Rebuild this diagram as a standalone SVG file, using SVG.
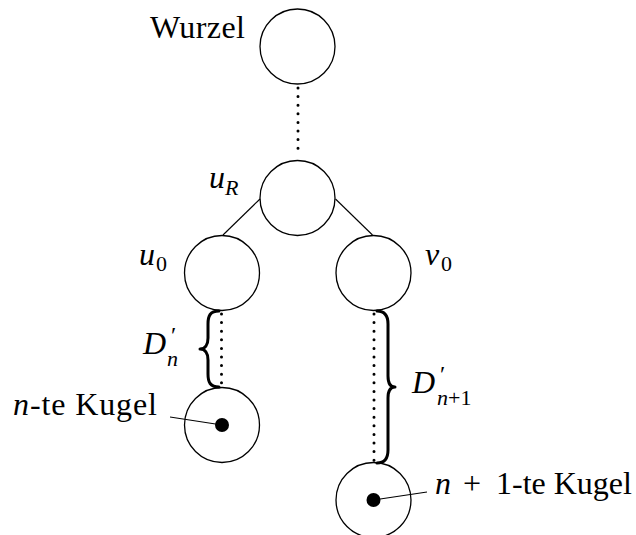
<svg xmlns="http://www.w3.org/2000/svg" width="636" height="535" viewBox="0 0 636 535">
<style>
.node{fill:none;stroke:#000;stroke-width:1.3}
.edge{fill:none;stroke:#000;stroke-width:1.1}
.dots{fill:none;stroke:#000;stroke-width:3;stroke-linecap:round;stroke-dasharray:0 8.6}
.brace{fill:none;stroke:#000;stroke-width:3;stroke-linecap:round;stroke-linejoin:round}
text{font-family:"Liberation Serif","DejaVu Serif",serif;font-size:32px;fill:#000}
.it{font-style:italic}
.sub{font-size:22px}
.pr{font-size:24px;font-style:normal}
</style>
<rect width="636" height="535" fill="#fff"/>
<g id="connectors">
<path class="dots" d="M298 88 V156"/>
<path class="edge" d="M260 199 L223 235"/>
<path class="edge" d="M335.5 199 L372.5 235"/>
<path class="dots" d="M221.5 314 V386"/>
<path class="dots" d="M374 314 V462"/>
<path class="brace" d="M219 311 C210 311 208 316 208 324 L208 338 C208 345 205 349 200 349 C205 349 208 353 208 360 L208 374 C208 382 210 387 219 387"/>
<path class="brace" d="M377 311 C385 311 388 316 388 324 L388 376 C388 383 390 387 395 387 C390 387 388 391 388 398 L388 450 C388 458 385 463 377 463"/>
<path class="edge" d="M170 417 L222 425"/>
<path class="edge" d="M373.5 500 L427 492"/>
</g>
<g id="wurzel"><circle class="node" cx="297.5" cy="46.5" r="37.5"/><text x="150" y="38" textLength="95">Wurzel</text></g>
<g id="uR"><circle class="node" cx="297.5" cy="198" r="37.5"/><text class="it" x="209" y="188">u</text><text class="it sub" x="225" y="195">R</text></g>
<g id="u0"><circle class="node" cx="222" cy="273" r="37.5"/><text class="it" x="139" y="265">u</text><text class="sub" x="156" y="271">0</text></g>
<g id="v0"><circle class="node" cx="373.5" cy="273" r="37.5"/><text class="it" x="425" y="265">v</text><text class="sub" x="441" y="271">0</text></g>
<g id="kugel-n"><circle class="node" cx="222" cy="425" r="37.5"/><circle cx="222" cy="425" r="7" fill="#000"/><text x="13" y="415" textLength="144"><tspan class="it">n</tspan>-te Kugel</text></g>
<g id="kugel-n1"><circle class="node" cx="373.5" cy="500" r="37.5"/><circle cx="373.5" cy="500" r="7" fill="#000"/><text x="435" y="494"><tspan class="it">n</tspan><tspan x="463">+</tspan><tspan x="496">1-te Kugel</tspan></text></g>
<g id="label-Dn"><text class="it" x="143" y="354">D<tspan class="pr" x="171" y="343">′</tspan><tspan class="sub" x="167" y="366">n</tspan></text></g>
<g id="label-Dn1"><text class="it" x="412" y="393">D<tspan class="pr" x="440" y="382">′</tspan><tspan class="sub" x="437" y="405">n<tspan font-style="normal">+1</tspan></tspan></text></g>
</svg>
